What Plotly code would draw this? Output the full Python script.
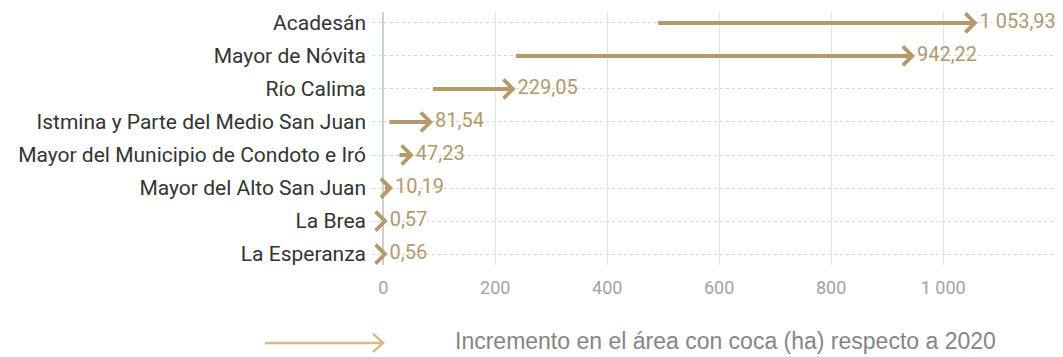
import plotly.graph_objects as go

categorias = ["Acadesán", "Mayor de Nóvita", "Río Calima",
              "Istmina y Parte del Medio San Juan",
              "Mayor del Municipio de Condoto e Iró",
              "Mayor del Alto San Juan", "La Brea", "La Esperanza"]
inicio = [491, 237, 89, 11, 29, 3, 0, 0]
incremento = [1053.93, 942.22, 229.05, 81.54, 47.23, 10.19, 0.57, 0.56]
etiquetas = ["1 053,93", "942,22", "229,05", "81,54", "47,23", "10,19", "0,57", "0,56"]
ticks_x = [0, 200, 400, 600, 800, 1000]

GOLD = "#b49a6a"
LABEL_GOLD = "#b09a70"
LEGEND_GOLD = "#d4bb8e"

X_RANGE = [-20, 1214]
W, H = 1055, 349          # page body has an 8px margin
M = dict(l=364, r=0, t=4, b=92)

fig = go.Figure()
idx = list(range(len(categorias)))

# arrow shafts
xs, ys = [], []
for i, (s, e) in enumerate(zip(inicio, incremento)):
    xs += [s, e, None]
    ys += [i, i, None]
fig.add_trace(go.Scatter(
    x=xs, y=ys, mode="lines", line=dict(color=GOLD, width=4),
    hoverinfo="skip", showlegend=False, cliponaxis=False,
))

# value labels
fig.add_trace(go.Scatter(
    x=incremento, y=idx, mode="text", text=etiquetas,
    texttemplate="\u2009\u200a%{text}",
    textposition="middle right",
    textfont=dict(family="Roboto", size=20, color=LABEL_GOLD),
    hoverinfo="skip", showlegend=False, cliponaxis=False,
))

# arrow heads: chevrons anchored at each value (size in pixels)
shapes = []
for i, e in enumerate(incremento):
    shapes.append(dict(
        type="path", xref="x", yref="y",
        xsizemode="pixel", ysizemode="pixel", xanchor=e, yanchor=i,
        path="M-8,9.5 L1.5,0 L-8,-9.5",
        line=dict(color=GOLD, width=3.8), fillcolor="rgba(0,0,0,0)",
        layer="above",
    ))

# legend arrow
shapes.append(dict(
    type="path", xref="paper", yref="paper",
    xsizemode="pixel", ysizemode="pixel", xanchor=0.016, yanchor=-0.308,
    path="M-118,0 L0,0 M-10,9 L0,0 L-10,-9",
    line=dict(color=LEGEND_GOLD, width=2.5), fillcolor="rgba(0,0,0,0)",
))

annotations = [dict(
    x=0.117, y=-0.300, xref="paper", yref="paper", xanchor="left", yanchor="middle",
    text="Incremento en el área con coca (ha) respecto a 2020", showarrow=False,
    font=dict(family="Liberation Sans", size=23, color="#858585"),
)]

fig.update_layout(
    width=W, height=H,
    margin=M,
    paper_bgcolor="white", plot_bgcolor="white",
    separators=", ",
    annotations=annotations,
    shapes=shapes,
    xaxis=dict(
        range=X_RANGE, tickvals=ticks_x, showgrid=True, automargin=False,
        gridcolor="#e4e4e4", gridwidth=1,
        zeroline=True, zerolinecolor="#c9d1d7", zerolinewidth=2,
        showline=False, ticks="", ticklabelstandoff=10,
        tickfont=dict(family="Roboto", size=18, color="#a3a3a3"),
        tickformat=",d",
    ),
    yaxis=dict(
        range=[7.33, -0.33], tickvals=idx, ticktext=categorias, automargin=False,
        showgrid=True, gridcolor="#d6d6d6", griddash="dot", gridwidth=1,
        zeroline=False, showline=False, ticks="", ticklabelstandoff=5,
        tickfont=dict(family="Roboto", size=21, color="#333333"),
    ),
)

fig.write_html("out.html")
